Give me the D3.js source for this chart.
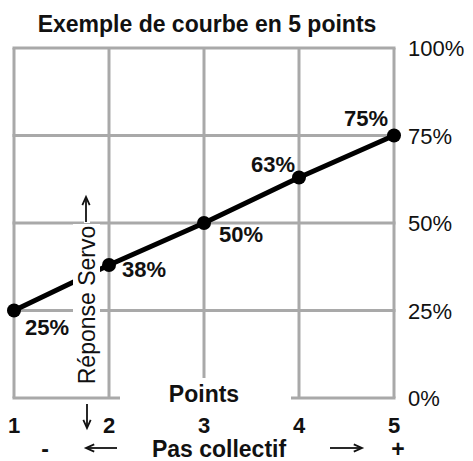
<!DOCTYPE html>
<html>
<head>
<meta charset="utf-8">
<script src="https://cdn.jsdelivr.net/npm/d3@7"></script>
<style>
  html, body { margin: 0; padding: 0; background: #fff; }
  svg { display: block; }
  text { font-family: "Liberation Sans", Arial, Helvetica, sans-serif; fill: #111; }
</style>
</head>
<body>
<svg id="chart" width="473" height="461"></svg>
<script>
// Five-point curve: collective pitch points vs servo response (%)
const points = [1, 2, 3, 4, 5];
const response = [25, 38, 50, 63, 75];
const percentTicks = [0, 25, 50, 75, 100];
const tickLabels = ["0%", "25%", "50%", "75%", "100%"];
const pointLabels = ["1", "2", "3", "4", "5"];
const titleText = "Exemple de courbe en 5 points";
const yTitle = "Réponse Servo";
const xTitle = "Pas collectif";
const gridTitle = "Points";

const svg = d3.select("#chart");
const W = 473, H = 461;
const margin = { left: 14, right: 79, top: 48, bottom: 63 };

const x = d3.scaleLinear().domain([1, 5]).range([margin.left, W - margin.right]);
const y = d3.scaleLinear().domain([0, 100]).range([H - margin.bottom, margin.top]);

const gridColor = "#a9a9a9";

// Grid: vertical lines at each point, horizontal at each quarter
const grid = svg.append("g").attr("stroke", gridColor).attr("stroke-width", 3).attr("fill", "none");
grid.selectAll("line.v").data(points).join("line")
  .attr("class", "v")
  .attr("x1", d => x(d)).attr("x2", d => x(d))
  .attr("y1", y(100)).attr("y2", y(0));
grid.selectAll("line.h").data(percentTicks).join("line")
  .attr("class", "h")
  .attr("x1", x(1) - 1.5).attr("x2", x(5) + 1.5)
  .attr("y1", d => y(d)).attr("y2", d => y(d));

// Response curve
const line = d3.line().x((d, i) => x(points[i])).y(d => y(d));
svg.append("path")
  .datum(response)
  .attr("d", line)
  .attr("fill", "none")
  .attr("stroke", "#000")
  .attr("stroke-width", 5)
  .attr("stroke-linejoin", "round");

svg.selectAll("circle.pt").data(response).join("circle")
  .attr("class", "pt")
  .attr("cx", (d, i) => x(points[i]))
  .attr("cy", d => y(d))
  .attr("r", 7)
  .attr("fill", "#000");

// Value labels, placed around each point
const labelOffset = [
  { dx: 33, dy: 24 },
  { dx: 35, dy: 12 },
  { dx: 37, dy: 19 },
  { dx: -26, dy: -6 },
  { dx: -28, dy: -10 }
];
svg.selectAll("text.val").data(response).join("text")
  .attr("class", "val")
  .attr("x", (d, i) => x(points[i]) + labelOffset[i].dx)
  .attr("y", (d, i) => y(d) + labelOffset[i].dy)
  .attr("text-anchor", "middle")
  .attr("font-weight", "bold")
  .attr("font-size", 22)
  .text(d => d + "%");

// Right-hand percent scale
svg.selectAll("text.pct").data(percentTicks).join("text")
  .attr("class", "pct")
  .attr("x", x(5) + 14)
  .attr("y", d => y(d) + 8)
  .attr("font-size", 22)
  .text((d, i) => tickLabels[i]);

// Title
svg.append("text")
  .attr("x", 207).attr("y", 32)
  .attr("text-anchor", "middle")
  .attr("font-weight", "bold")
  .attr("font-size", 23)
  .text(titleText);

// "Points" caption sitting in a gap of the bottom border
const midX = x(3);
svg.append("rect")
  .attr("x", x(2) + 11).attr("y", y(0) - 20)
  .attr("width", x(4) - x(2) - 19).attr("height", 26)
  .attr("fill", "#fff");
svg.append("text")
  .attr("x", midX).attr("y", y(0) + 4)
  .attr("text-anchor", "middle")
  .attr("font-weight", "bold")
  .attr("font-size", 23)
  .text(gridTitle);

// Point numbers under the grid
svg.selectAll("text.num").data(points).join("text")
  .attr("class", "num")
  .attr("x", d => x(d))
  .attr("y", y(0) + 35)
  .attr("text-anchor", "middle")
  .attr("font-weight", "bold")
  .attr("font-size", 22)
  .text((d, i) => pointLabels[i]);

// Bottom axis caption with direction arrows
const bottomY = H - 4;
svg.append("text")
  .attr("x", 219).attr("y", bottomY)
  .attr("text-anchor", "middle")
  .attr("font-weight", "bold")
  .attr("font-size", 23)
  .text(xTitle);
svg.append("text").attr("x", 45).attr("y", bottomY).attr("text-anchor", "middle")
  .attr("font-weight", "bold").attr("font-size", 23).text("-");
svg.append("text").attr("x", 398).attr("y", bottomY).attr("text-anchor", "middle")
  .attr("font-weight", "bold").attr("font-size", 23).text("+");

// Thin arrows drawn as paths
function arrow(x1, y1, x2, y2) {
  const g = svg.append("g").attr("stroke", "#111").attr("stroke-width", 1.8).attr("fill", "none");
  g.append("line").attr("x1", x1).attr("y1", y1).attr("x2", x2).attr("y2", y2);
  const a = Math.atan2(y2 - y1, x2 - x1);
  const L = 9, s = 0.42;
  g.append("path").attr("d",
    `M${x2 - L * Math.cos(a - s)},${y2 - L * Math.sin(a - s)} L${x2},${y2} L${x2 - L * Math.cos(a + s)},${y2 - L * Math.sin(a + s)}`);
}
arrow(117, 448, 86, 448);     // left arrow
arrow(330, 448, 362, 448);    // right arrow
arrow(87, 404, 87, 428);      // down arrow near point 2

// Vertical caption for the servo response, on a white backing
const capX = 87, capY = 305;
svg.append("rect")
  .attr("x", capX - 14).attr("y", capY - 81)
  .attr("width", 27).attr("height", 162)
  .attr("fill", "#fff");
svg.append("text")
  .attr("transform", `translate(${capX + 8},${capY}) rotate(-90)`)
  .attr("text-anchor", "middle")
  .attr("font-size", 23)
  .text(yTitle);
svg.append("rect")
  .attr("x", capX - 3).attr("y", 197)
  .attr("width", 6).attr("height", 26)
  .attr("fill", "#fff");
arrow(86, 222, 86, 197);      // up arrow above the caption
</script>
</body>
</html>
